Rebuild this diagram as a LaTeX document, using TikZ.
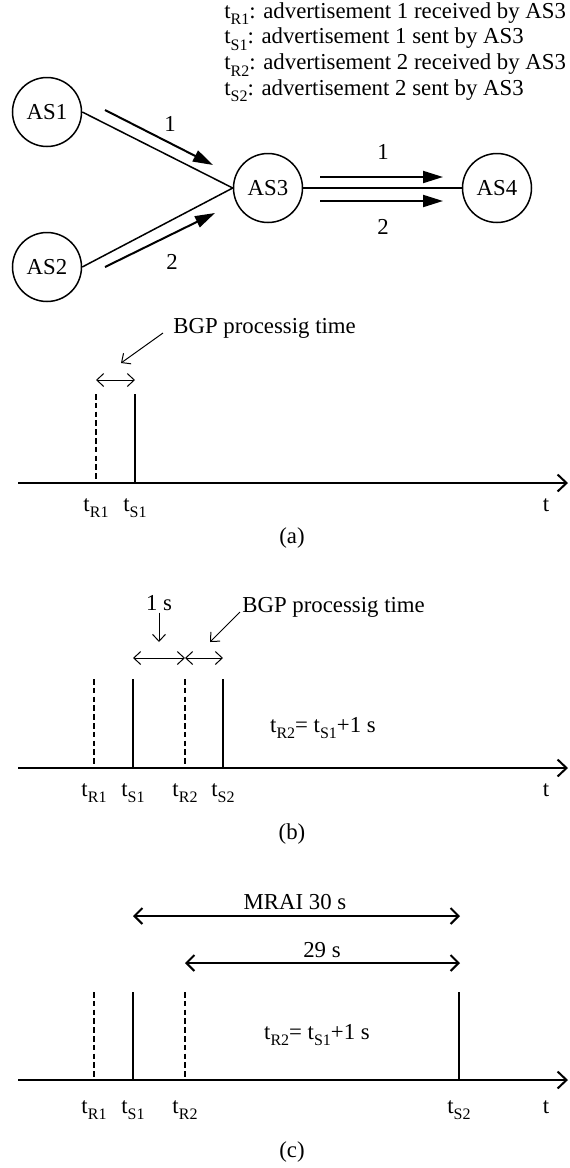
\documentclass[tikz,border=0pt]{standalone}
\usepackage{fontspec}
\setmainfont{Liberation Serif}
\usetikzlibrary{arrows.meta}

\newcommand{\tsub}[1]{t\raisebox{-0.3em}{\fontsize{8}{8}\selectfont #1}}

\tikzset{
  asnode/.style={draw, circle, line width=0.75pt, minimum size=34.5pt, inner sep=0pt},
  link/.style={line width=0.75pt},
  msg/.style={line width=1pt, -{Triangle[length=10pt,width=6pt]}},
  timeaxis/.style={line width=1pt, -{Straight Barb[length=4.5pt,width=8.5pt]}},
  recvline/.style={line width=1pt, dash pattern=on 2.8pt off 1.6pt},
  sentline/.style={line width=1pt},
  interval/.style={line width=0.5pt, {Straight Barb[length=3.5pt,width=6.5pt]}-{Straight Barb[length=3.5pt,width=6.5pt]}},
  longinterval/.style={line width=1pt, {Straight Barb[length=4pt,width=8pt]}-{Straight Barb[length=4pt,width=8pt]}},
  pointer/.style={line width=0.5pt, -{Straight Barb[length=3.5pt,width=6.5pt]}},
  ticklabel/.style={anchor=base, inner sep=0pt},
}

\begin{document}
\begin{tikzpicture}[x=0.5pt, y=-0.5pt, font=\fontsize{11.4}{13}\selectfont]
  \useasboundingbox (0,0) rectangle (569,1168);
  % legend
  \foreach \i/\n/\txt in {1/R1/advertisement 1 received by AS3, 2/S1/advertisement 1 sent by AS3,
                          3/R2/advertisement 2 received by AS3, 4/S2/advertisement 2 sent by AS3}
    \node[anchor=base west, inner sep=0pt] (key\i) at (224,{18+25.7*(\i-1)}) {\tsub{\n}: \txt};
  % AS graph
  \node[asnode] (as1) at (47,112) {AS1};
  \node[asnode] (as2) at (47,267) {AS2};
  \node[asnode] (as3) at (268,188) {AS3};
  \node[asnode] (as4) at (497,188) {AS4};
  \draw[link] (as1.east) -- (as3.west);
  \draw[link] (as2.east) -- (as3.west);
  \draw[link] (as3.east) -- (as4.west);
  % advertisements
  \coordinate (m1a) at (105,110);  \coordinate (m1b) at (213,165);
  \coordinate (m2a) at (105,267);  \coordinate (m2b) at (215,213);
  \coordinate (m3a) at (320,177);  \coordinate (m3b) at (443,177);
  \coordinate (m4a) at (320,201);  \coordinate (m4b) at (443,201);
  \draw[msg] (m1a) -- (m1b);
  \draw[msg] (m2a) -- (m2b);
  \draw[msg] (m3a) -- (m3b);
  \draw[msg] (m4a) -- (m4b);
  \node (n1) at (170,124) {1};
  \node (n2) at (172,262) {2};
  \node (n3) at (383,152) {1};
  \node (n4) at (383,227) {2};

  % panel (a)
  \coordinate (a0) at (18,483);  \coordinate (a9) at (568,483);
  \draw[timeaxis] (a0) -- (a9);
  \foreach \x/\n/\s in {96/R1/recvline, 135/S1/sentline} {
    \coordinate (aT\n) at (\x,394);
    \coordinate (aB\n) at (\x,483);
    \draw[\s] (aT\n) -- (aB\n);
    \node[ticklabel] (aL\n) at (\x,511) {\tsub{\n}};
  }
  \coordinate (ai1) at (96,380);  \coordinate (ai2) at (135,380);
  \draw[interval] (ai1) -- (ai2);
  \node[anchor=base west, inner xsep=5pt, inner ysep=1pt] (bgpa) at (163,333) {BGP processig time};
  \coordinate (bgpatip) at (121,363);
  \draw[pointer] (bgpa.base west) -- (bgpatip);
  \node[ticklabel] (ta) at (546,511) {t};
  \node (capa) at (292,538) {(a)};

  % panel (b)
  \coordinate (b0) at (18,768);  \coordinate (b9) at (568,768);
  \draw[timeaxis] (b0) -- (b9);
  \foreach \x/\n/\s in {94/R1/recvline, 133/S1/sentline, 185/R2/recvline, 223/S2/sentline} {
    \coordinate (bT\n) at (\x,679);
    \coordinate (bB\n) at (\x,768);
    \draw[\s] (bT\n) -- (bB\n);
    \node[ticklabel] (bL\n) at (\x,796) {\tsub{\n}};
  }
  \coordinate (bi1) at (133,658);  \coordinate (bi2) at (185,658);  \coordinate (bi3) at (223,658);
  \draw[interval] (bi1) -- (bi2);
  \draw[interval] (bi2) -- (bi3);
  \node[anchor=base, inner sep=1pt] (onesec) at (159,610) {1 s};
  \coordinate (onesectip) at (159,642);
  \draw[pointer] (onesec.south) -- (onesectip);
  \node[anchor=base west, inner xsep=1pt, inner ysep=1pt] (bgpb) at (240,612) {BGP processig time};
  \coordinate (bgpbtip) at (210,642);
  \draw[pointer] (bgpb.base west) -- (bgpbtip);
  \node (eqb) at (323,728) {\tsub{R2}= \tsub{S1}+1 s};
  \node[ticklabel] (tb) at (546,796) {t};
  \node (capb) at (292,834) {(b)};

  % panel (c)
  \coordinate (c0) at (18,1080);  \coordinate (c9) at (568,1080);
  \draw[timeaxis] (c0) -- (c9);
  \foreach \x/\n/\s in {94/R1/recvline, 133/S1/sentline, 185/R2/recvline, 459/S2/sentline} {
    \coordinate (cT\n) at (\x,992);
    \coordinate (cB\n) at (\x,1080);
    \draw[\s] (cT\n) -- (cB\n);
    \node[ticklabel] (cL\n) at (\x,1113) {\tsub{\n}};
  }
  \coordinate (ci1) at (133,916);  \coordinate (ci2) at (460,916);
  \coordinate (ci3) at (185,963);  \coordinate (ci4) at (460,963);
  \draw[longinterval] (ci1) -- (ci2);
  \draw[longinterval] (ci3) -- (ci4);
  \node (mrai) at (295,902) {MRAI 30 s};
  \node (rest) at (322,950) {29 s};
  \node (eqc) at (317,1035) {\tsub{R2}= \tsub{S1}+1 s};
  \node[ticklabel] (tc) at (546,1113) {t};
  \node (capc) at (292,1152) {(c)};
\end{tikzpicture}
\end{document}
